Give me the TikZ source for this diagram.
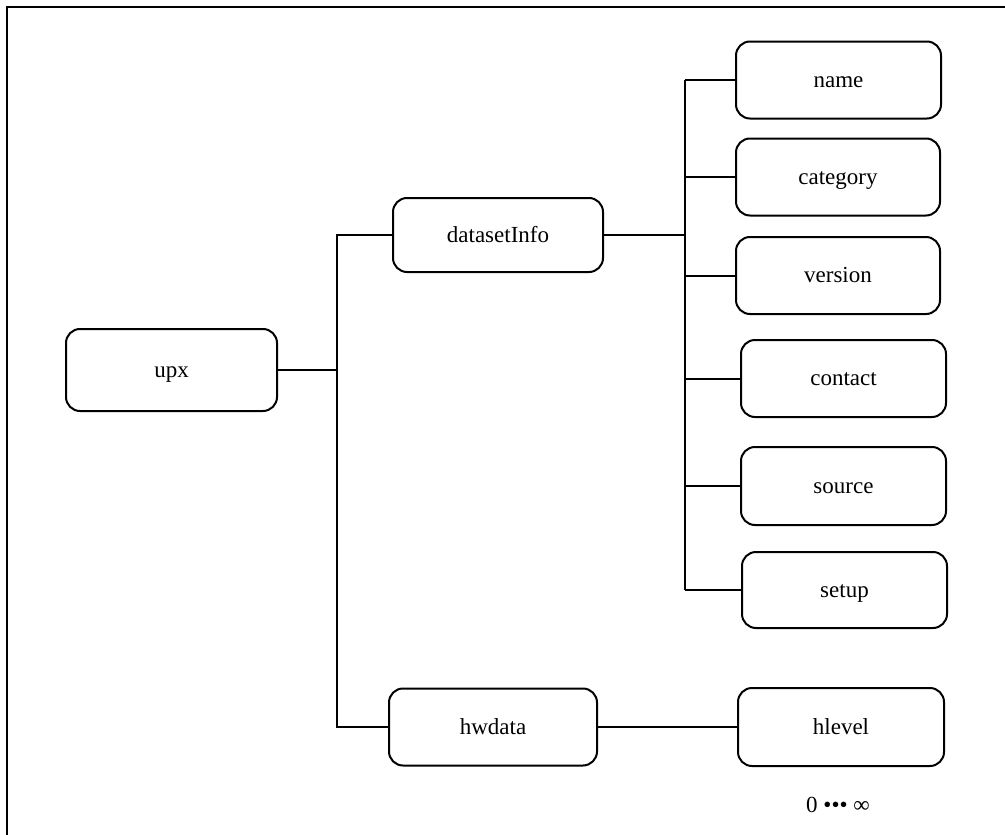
\documentclass[tikz,border=0pt]{standalone}
\usepackage{fontspec}
\setmainfont{Liberation Serif}
\begin{document}
\begin{tikzpicture}[x=1pt,y=-1pt,
  field/.style={draw,line width=2pt,rounded corners=14pt,inner sep=0pt,
    text height=16pt,text depth=2pt,
    font=\fontsize{23}{27}\selectfont},
  wire/.style={line width=2pt}]
\useasboundingbox (0,0) rectangle (1005,835);
% frame
\draw[line width=2.5pt] (7,845) -- (7,7) -- (1015,7);

% boxes
\node[field,minimum width=211pt,minimum height=82pt] (upx) at (171.5,370) {upx};
\node[field,minimum width=210pt,minimum height=74pt] (info) at (498,235) {datasetInfo};
\node[field,minimum width=208pt,minimum height=77pt] (hw) at (493,727) {hwdata};

\node[field,minimum width=205pt,minimum height=77pt] (name) at (838.5,80) {name};
\node[field,minimum width=204pt,minimum height=77pt] (cat) at (838,177) {category};
\node[field,minimum width=204pt,minimum height=77pt] (ver) at (838,275.5) {version};
\node[field,minimum width=205pt,minimum height=77pt] (con) at (843.5,378.5) {contact};
\node[field,minimum width=205pt,minimum height=78pt] (src) at (843.5,486) {source};
\node[field,minimum width=205pt,minimum height=76pt] (set) at (844.5,590) {setup};
\node[field,minimum width=206pt,minimum height=78pt] (hl) at (841,727) {hlevel};

\node[font=\fontsize{23}{27}\selectfont,text height=16pt,text depth=2pt] (card) at (838,805) {0 ••• ∞};

% bus lines
\coordinate (lbus) at (337,0);
\coordinate (rbus) at (685,0);

\draw[wire] (upx.east) -- (lbus |- upx.east);
\draw[wire] (info.west) -- (lbus |- info.west) -- (lbus |- hw.west) -- (hw.west);

\draw[wire] (info.east) -- (rbus |- info.east);
\draw[wire] (rbus |- name.west) -- (rbus |- set.west);
\foreach \n in {name,cat,ver,con,src,set}
  \draw[wire] (rbus |- \n.west) -- (\n.west);

\draw[wire] (hw.east) -- (hl.west);
\end{tikzpicture}
\end{document}
